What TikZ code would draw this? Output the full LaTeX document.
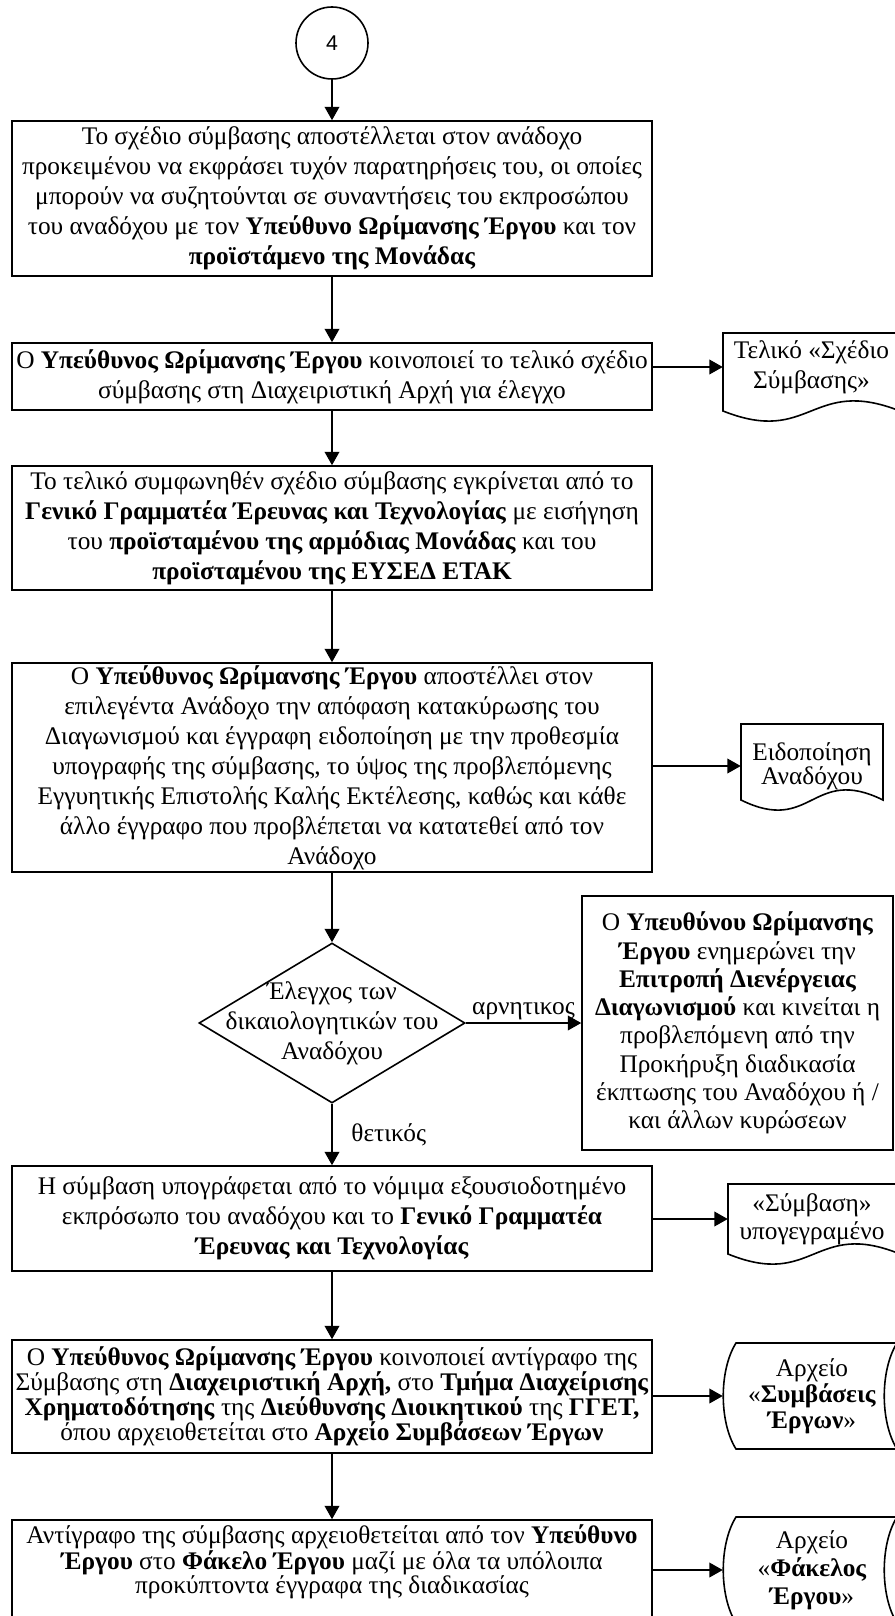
\documentclass[tikz,border=0pt]{standalone}
\usepackage{fontspec}
\setmainfont{Liberation Serif}
\newfontfamily\numfont{Liberation Sans}
\usetikzlibrary{arrows.meta,shapes.geometric,calc}
\tikzset{
  proc/.style={draw, line width=1.2pt, rectangle, align=center, inner sep=0pt,
    font=\fontsize{19}{22.5}\selectfont, minimum width=480pt},
  tight/.style={font=\fontsize{19}{18.75}\selectfont},
  arr/.style={line width=1.1pt, -{Triangle[length=10pt,width=11pt]}},
  shapeline/.style={draw, line width=1.2pt},
  txt/.style={align=center, inner sep=0pt, font=\fontsize{19}{22.5}\selectfont},
  lbl/.style={inner sep=0pt, font=\fontsize{19}{22.5}\selectfont},
}
\begin{document}
\begin{tikzpicture}[x=0.75pt,y=-0.75pt]
\useasboundingbox (0,0) rectangle (895,1616);
\clip (0,0) rectangle (895,1616);

% start connector
\node[circle, draw, line width=1.2pt, minimum size=54pt, inner sep=0pt,
  font=\numfont\fontsize{16}{18}\selectfont] (c4) at (332,43) {4};

% main column
\node[proc, minimum height=116.25pt] (b1) at (332,198.5) {Το σχέδιο σύμβασης αποστέλλεται στον ανάδοχο\\
προκειμένου να εκφράσει τυχόν παρατηρήσεις του, οι οποίες\\
μπορούν να συζητούνται σε συναντήσεις του εκπροσώπου\\
του αναδόχου με τον \textbf{Υπεύθυνο Ωρίμανσης Έργου} και τον\\
\textbf{προϊστάμενο της Μονάδας}};

\node[proc, minimum height=50.25pt] (b2) at (332,376.5) {Ο \textbf{Υπεύθυνος Ωρίμανσης Έργου} κοινοποιεί το τελικό σχέδιο\\
σύμβασης στη Διαχειριστική Αρχή για έλεγχο};

\node[proc, minimum height=93pt] (b3) at (332,528) {Το τελικό συμφωνηθέν σχέδιο σύμβασης εγκρίνεται από το\\
\textbf{Γενικό Γραμματέα Έρευνας και Τεχνολογίας} με εισήγηση\\
του \textbf{προϊσταμένου της αρμόδιας Μονάδας} και του\\
\textbf{προϊσταμένου της ΕΥΣΕΔ ΕΤΑΚ}};

\node[proc, minimum height=156.75pt] (b4) at (332,767.5) {Ο \textbf{Υπεύθυνος Ωρίμανσης Έργου} αποστέλλει στον\\
επιλεγέντα Ανάδοχο την απόφαση κατακύρωσης του\\
Διαγωνισμού και έγγραφη ειδοποίηση με την προθεσμία\\
υπογραφής της σύμβασης, το ύψος της προβλεπόμενης\\
Εγγυητικής Επιστολής Καλής Εκτέλεσης, καθώς και κάθε\\
άλλο έγγραφο που προβλέπεται να κατατεθεί από τον\\
Ανάδοχο};

\node[diamond, draw, line width=1.2pt, inner sep=0pt, minimum width=199.5pt, minimum height=120pt,
  label={[txt]center:{Έλεγχος των\\δικαιολογητικών του\\Αναδόχου}}] (dm) at (332,1023) {};

\node[proc, minimum width=233.25pt, minimum height=190.5pt, font=\fontsize{19}{21.2}\selectfont] (rb) at (737.5,1023) {Ο \textbf{Υπευθύνου Ωρίμανσης}\\
\textbf{Έργου} ενημερώνει την\\
\textbf{Επιτροπή Διενέργειας}\\
\textbf{Διαγωνισμού} και κινείται η\\
προβλεπόμενη από την\\
Προκήρυξη διαδικασία\\
έκπτωσης του Αναδόχου ή /\\
και άλλων κυρώσεων};

\node[proc, minimum height=78.75pt] (b5) at (332,1218.5) {Η σύμβαση υπογράφεται από το νόμιμα εξουσιοδοτημένο\\
εκπρόσωπο του αναδόχου και το \textbf{Γενικό Γραμματέα}\\
\textbf{Έρευνας και Τεχνολογίας}};

\node[proc, tight, minimum height=84.75pt] (b6) at (332,1396.5) {Ο \textbf{Υπεύθυνος Ωρίμανσης Έργου} κοινοποιεί αντίγραφο της\\
Σύμβασης στη \textbf{Διαχειριστική Αρχή,} στο \textbf{Τμήμα Διαχείρισης}\\
\textbf{Χρηματοδότησης} της \textbf{Διεύθυνσης Διοικητικού} της \textbf{ΓΓΕΤ,}\\
όπου αρχειοθετείται στο \textbf{Αρχείο Συμβάσεων Έργων}};

\node[proc, minimum height=75pt,
  label={[txt, font=\fontsize{19}{17}\selectfont, yshift=6pt]center:{Αντίγραφο της σύμβασης αρχειοθετείται από τον \textbf{Υπεύθυνο}\\
\textbf{Έργου} στο \textbf{Φάκελο Έργου} μαζί με όλα τα υπόλοιπα\\
προκύπτοντα έγγραφα της διαδικασίας}}] (b7) at (332,1570) {};

% documents (outlines drawn directly, text nodes named)
\draw[shapeline] (723,411) -- (723,333) -- (900,333) -- (900,411)
  .. controls (811,376) and (811,446) .. (723,411) -- cycle;
\node[txt, minimum width=132.75pt] (d1) at (811.5,367) {Τελικό «Σχέδιο\\Σύμβασης»};

\draw[shapeline] (741,800) -- (741,724) -- (883,724) -- (883,800)
  .. controls (812,765) and (812,835) .. (741,800) -- cycle;
\node[txt, minimum width=106.5pt, font=\fontsize{19}{18}\selectfont] (d2) at (812,766) {Ειδοποίηση\\Αναδόχου};

\draw[shapeline] (728,1254) -- (728,1184) -- (900,1184) -- (900,1254)
  .. controls (814,1219) and (814,1289) .. (728,1254) -- cycle;
\node[txt, minimum width=126pt, font=\fontsize{19}{21}\selectfont] (d3) at (812,1219) {«Σύμβαση»\\υπογεγραμένο};

% stored data
\draw[shapeline] (736,1343) -- (897,1343) .. controls (880,1370) and (880,1422) .. (897,1449)
  -- (736,1449) .. controls (719,1422) and (719,1370) .. (736,1343) -- cycle;
\node[txt, minimum width=133.5pt, font=\fontsize{19}{19.5}\selectfont] (s1) at (812,1396) {Αρχείο\\«\textbf{Συμβάσεις}\\\textbf{Έργων}»};

\draw[shapeline] (736,1517) -- (897,1517) .. controls (880,1544) and (880,1596) .. (897,1623)
  -- (736,1623) .. controls (719,1596) and (719,1544) .. (736,1517) -- cycle;
\node[txt, minimum width=133.5pt, font=\fontsize{19}{21}\selectfont] (s2) at (812,1570) {Αρχείο\\«\textbf{Φάκελος}\\\textbf{Έργου}»};

% connectors
\draw[arr] (c4.south) -- (b1.north);
\draw[arr] (b1.south) -- (b2.north);
\draw[arr] (b2.south) -- (b3.north);
\draw[arr] (b3.south) -- (b4.north);
\draw[arr] (b4.south) -- (dm.north);
\draw[arr] (dm.east) -- node[lbl, above=2pt] {αρνητικος} (rb.west);
\draw[arr] (dm.south) -- node[lbl, right, xshift=14pt] {θετικός} (b5.north);
\draw[arr] (b5.south) -- (b6.north);
\draw[arr] (b6.south) -- (b7.north);
\draw[arr] (b2.east |- d1.west) -- (d1.west);
\draw[arr] (b4.east |- d2.west) -- (d2.west);
\draw[arr] (b5.east |- d3.west) -- (d3.west);
\draw[arr] (b6.east |- s1.west) -- (s1.west);
\draw[arr] (b7.east |- s2.west) -- (s2.west);
\end{tikzpicture}
\end{document}
